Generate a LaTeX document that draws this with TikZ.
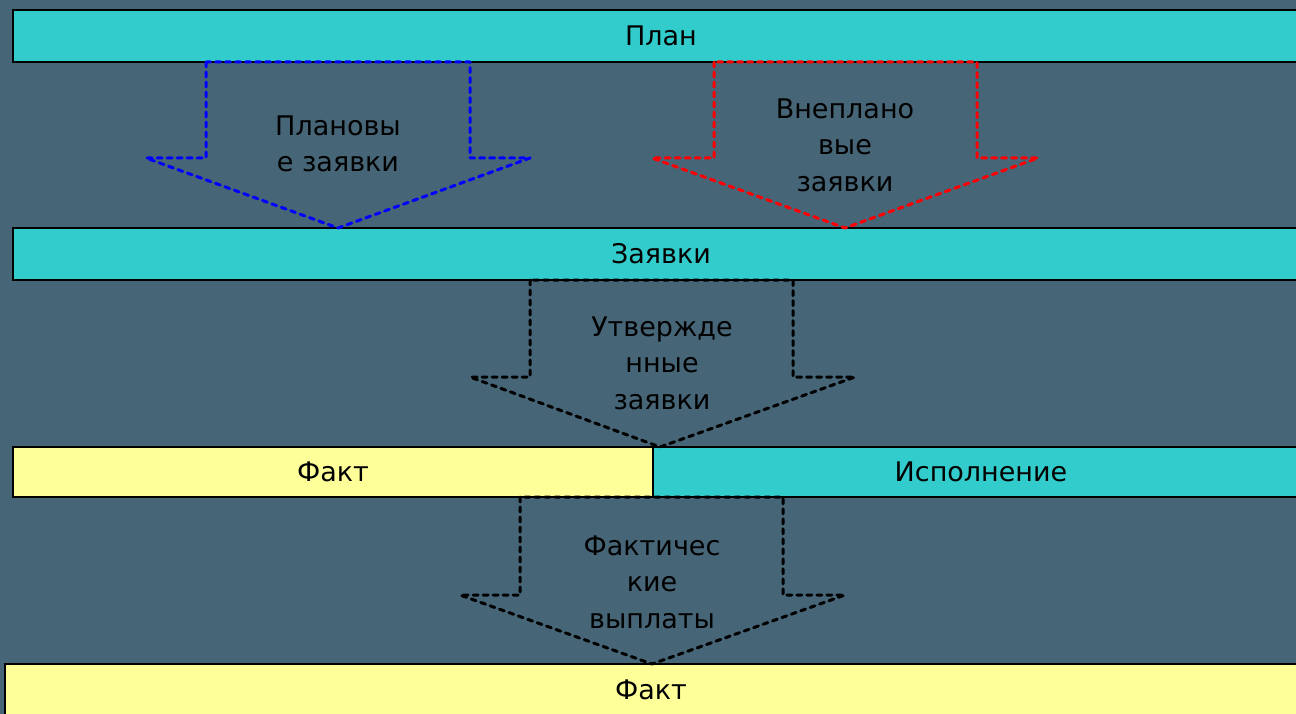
\documentclass[tikz,border=0pt]{standalone}
\usepackage{fontspec}
\setmainfont{DejaVu Sans}
\definecolor{bgc}{HTML}{466577}
\definecolor{cyanc}{HTML}{33CCCC}
\definecolor{yellowc}{HTML}{FFFF99}
\definecolor{bluec}{HTML}{0000FF}
\definecolor{redc}{HTML}{FF0000}
\begin{document}
\begin{tikzpicture}[x=1pt,y=-1pt,
  bar/.style={draw=black, line width=1.2pt, rectangle, inner sep=0pt, font=\fontsize{27}{34}\selectfont},
  blockarrow/.style={line width=3pt, dash pattern=on 5pt off 5pt, line cap=round, line join=round},
  atext/.style={align=center, inner sep=0pt, font=\fontsize{27}{36.5}\selectfont, text=black}]
\useasboundingbox (0,0) rectangle (1296,714);
\fill[bgc] (0,0) rectangle (1296,714);
\begin{scope}
\clip (0,0) rectangle (1296,714);
\node[bar, fill=cyanc, minimum width=1296pt, minimum height=52pt] (plan) at (661,36) {План};
\node[bar, fill=cyanc, minimum width=1296pt, minimum height=52pt] (zayavki) at (661,254) {Заявки};
\node[bar, fill=yellowc, minimum width=640pt, minimum height=50pt] (fakt1) at (333,472) {Факт};
\node[bar, fill=cyanc, minimum width=656pt, minimum height=50pt] (ispoln) at (981,472) {Исполнение};
\node[bar, fill=yellowc, minimum width=1292pt, minimum height=52pt] (fakt2) at (651,690) {Факт};
\end{scope}
% blue arrow
\draw[blockarrow, bluec] (206,62) -- (206,158) -- (146,158) -- (338,228) -- (530,158) -- (470,158) -- (470,62) -- cycle;
\node[atext] (a1) at (338,144) {Плановы\\е заявки};
% red arrow
\draw[blockarrow, redc] (714,62) -- (714,158) -- (652,158) -- (845,228) -- (1038,158) -- (977,158) -- (977,62) -- cycle;
\node[atext] (a2) at (845,145) {Внеплано\\вые\\заявки};
% black arrow 1
\draw[blockarrow, black] (530,280) -- (530,377) -- (470,377) -- (660,447) -- (855,377) -- (793,377) -- (793,280) -- cycle;
\node[atext] (a3) at (662,363) {Утвержде\\нные\\заявки};
% black arrow 2
\draw[blockarrow, black] (520,497) -- (520,595) -- (460,595) -- (652,664) -- (845,595) -- (783,595) -- (783,497) -- cycle;
\node[atext] (a4) at (652,582) {Фактичес\\кие\\выплаты};
\end{tikzpicture}
\end{document}
